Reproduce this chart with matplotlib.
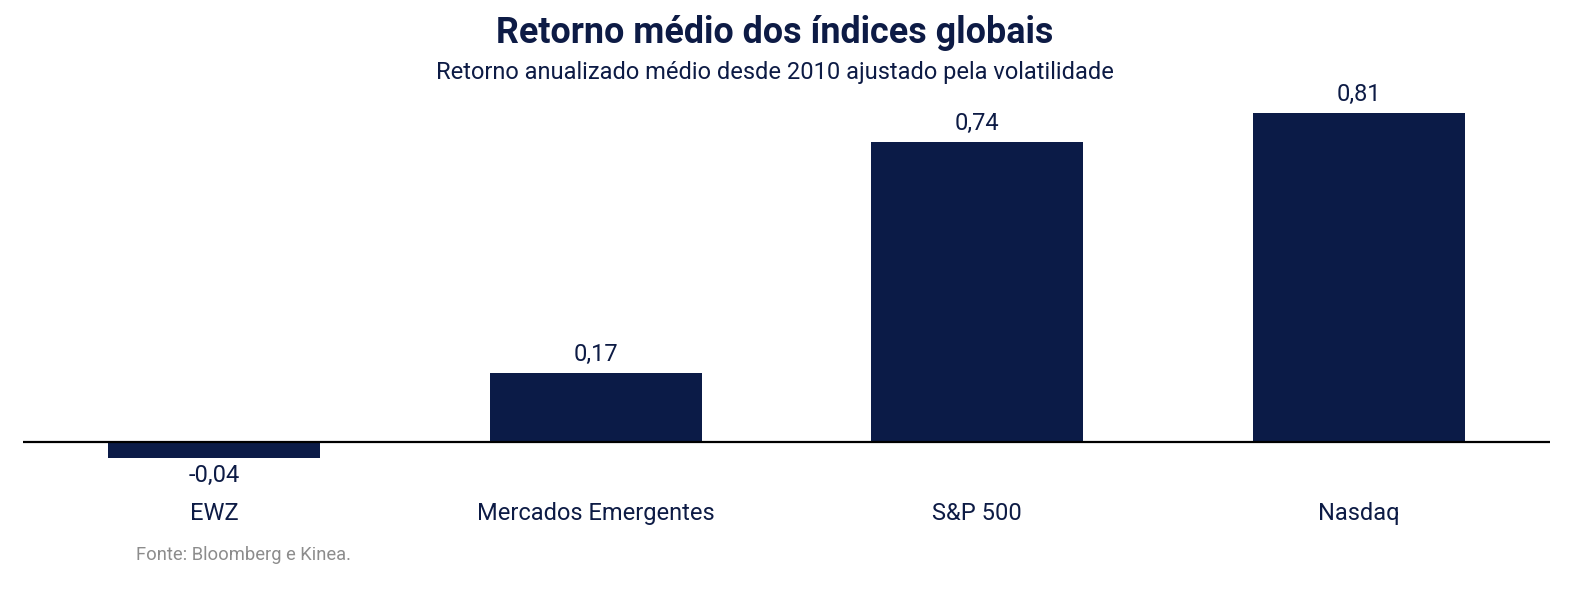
import matplotlib
matplotlib.use("Agg")
import matplotlib.pyplot as plt

categories = ["EWZ", "Mercados Emergentes", "S&P 500", "Nasdaq"]
values = [-0.04, 0.17, 0.74, 0.81]
value_labels = ["-0,04", "0,17", "0,74", "0,81"]

navy = "#0B1B47"
text_col = "#0D1B45"
plt.rcParams['font.family'] = ['Roboto', 'DejaVu Sans']

fig = plt.figure(figsize=(15.75, 5.91), dpi=100)
ax = fig.add_axes([23/1575, (591-470)/591, 1527/1575, 370/591])
x = list(range(len(categories)))
bars = ax.bar(x, values, width=0.555, color=navy, zorder=2)
ax.set_xlim(-0.5, 3.5)
ax.set_ylim(-28/406, 342/406)
ax.axhline(0, color="black", lw=1.6, zorder=3)
for s in ax.spines.values():
    s.set_visible(False)
ax.set_yticks([])
ax.set_xticks(x)
ax.set_xticklabels(categories, fontsize=17, color=text_col)
ax.tick_params(axis='x', length=0, pad=23)

for xi, v, lab in zip(x, values, value_labels):
    if v >= 0:
        ax.annotate(lab, (xi, v), xytext=(0, 5), textcoords='offset points',
                    ha='center', va='bottom', fontsize=17, color=text_col)
    else:
        ax.annotate(lab, (xi, v), xytext=(0, -4), textcoords='offset points',
                    ha='center', va='top', fontsize=17, color=text_col)

fig.text(775/1575, 1-33/591, "Retorno médio dos índices globais", ha='center', va='center',
         fontsize=25.8, fontweight='bold', color=text_col)
fig.text(775/1575, 1-72/591, "Retorno anualizado médio desde 2010 ajustado pela volatilidade",
         ha='center', va='center', fontsize=17, color=text_col)
fig.text(136/1575, 1-555/591, "Fonte: Bloomberg e Kinea.", ha='left', va='center',
         fontsize=13.2, color="#8C8C8C")

fig.savefig("out.png", dpi=100)
